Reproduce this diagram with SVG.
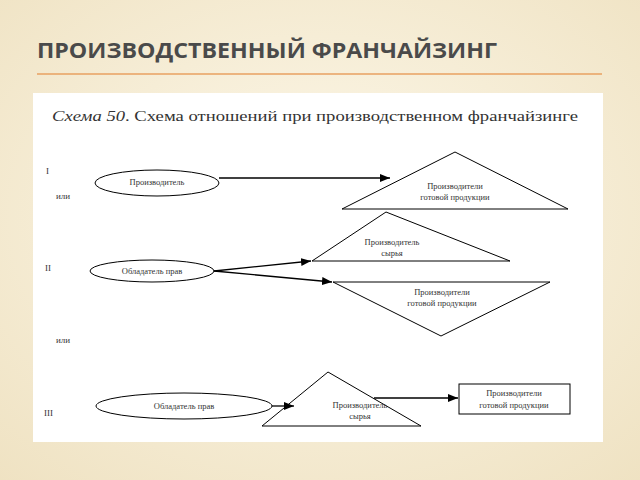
<svg xmlns="http://www.w3.org/2000/svg" width="640" height="480" viewBox="0 0 640 480">
<defs>
<radialGradient id="bg" cx="50%" cy="45%" r="75%"><stop offset="0" stop-color="#fdf8ea"/><stop offset="1" stop-color="#efe2c2"/></radialGradient>
<marker id="ar" markerWidth="10" markerHeight="8" refX="10" refY="4" orient="auto" markerUnits="userSpaceOnUse"><path d="M0,0 L10,4 L0,8 Z" fill="#000"/></marker>
</defs>
<style>
.s{fill:none;stroke:#000;stroke-width:1}
.w{fill:#fff;stroke:#000;stroke-width:1}
.t{font-family:"Liberation Serif",serif;font-size:8.5px;fill:#333;text-anchor:middle}
.l{font-family:"Liberation Serif",serif;font-size:9px;fill:#333}
.c{stroke:#000;stroke-width:1.3;fill:none;marker-end:url(#ar)}
</style>
<rect width="640" height="480" fill="url(#bg)"/>
<text x="37" y="58" font-family="'Open Sans','DejaVu Sans',sans-serif" font-weight="bold" font-size="22" fill="#4a4a4a" textLength="460" lengthAdjust="spacingAndGlyphs">ПРОИЗВОДСТВЕННЫЙ ФРАНЧАЙЗИНГ</text>
<line x1="37" y1="74" x2="602" y2="74" stroke="#e8a060" stroke-width="1.5"/>
<rect x="33" y="93" width="570" height="349" fill="#fff"/>
<text x="52" y="121" font-family="'Liberation Serif',serif" font-size="14" fill="#333" textLength="526" lengthAdjust="spacingAndGlyphs"><tspan font-style="italic">Схема 50</tspan>. Схема отношений при производственном франчайзинге</text>
<text class="l" x="46" y="174">I</text>
<text class="l" x="56" y="199">или</text>
<text class="l" x="45" y="271">II</text>
<text class="l" x="56" y="343">или</text>
<text class="l" x="44" y="416">III</text>
<g id="n1"><ellipse class="w" cx="157" cy="183" rx="62" ry="13"/><text class="t" x="157" y="185">Производитель</text></g>
<g id="n2"><polygon class="w" points="455,152 342,209 568,209"/><text class="t" x="455" y="189">Производители</text><text class="t" x="455" y="200">готовой продукции</text></g>
<g id="n3"><polygon class="w" points="386,212 312,261 510,261"/><text class="t" x="392" y="245">Производитель</text><text class="t" x="392" y="256">сырья</text></g>
<g id="n4"><ellipse class="w" cx="152" cy="271" rx="62" ry="11"/><text class="t" x="152" y="274">Обладатель прав</text></g>
<g id="n5"><polygon class="w" points="333,282 550,282 441,336"/><text class="t" x="442" y="295">Производители</text><text class="t" x="442" y="306">готовой продукции</text></g>
<g id="n6"><ellipse class="w" cx="184" cy="406" rx="88" ry="13"/><text class="t" x="184" y="409">Обладатель прав</text></g>
<g id="n7"><polygon class="w" points="328,372 262,426 421,426"/><text class="t" x="360" y="408">Производитель</text><text class="t" x="360" y="419">сырья</text></g>
<g id="n8"><rect class="w" x="459" y="384" width="111" height="30"/><text class="t" x="514" y="396">Производители</text><text class="t" x="514" y="408">готовой продукции</text></g>
<g id="connectors">
<line class="c" x1="219" y1="178" x2="390" y2="178"/>
<line class="c" x1="214" y1="271" x2="311" y2="261"/>
<line class="c" x1="214" y1="271" x2="332" y2="282"/>
<line class="c" x1="272" y1="406" x2="294" y2="406"/>
<line class="c" x1="374" y1="398" x2="458" y2="398"/>
</g>
</svg>
